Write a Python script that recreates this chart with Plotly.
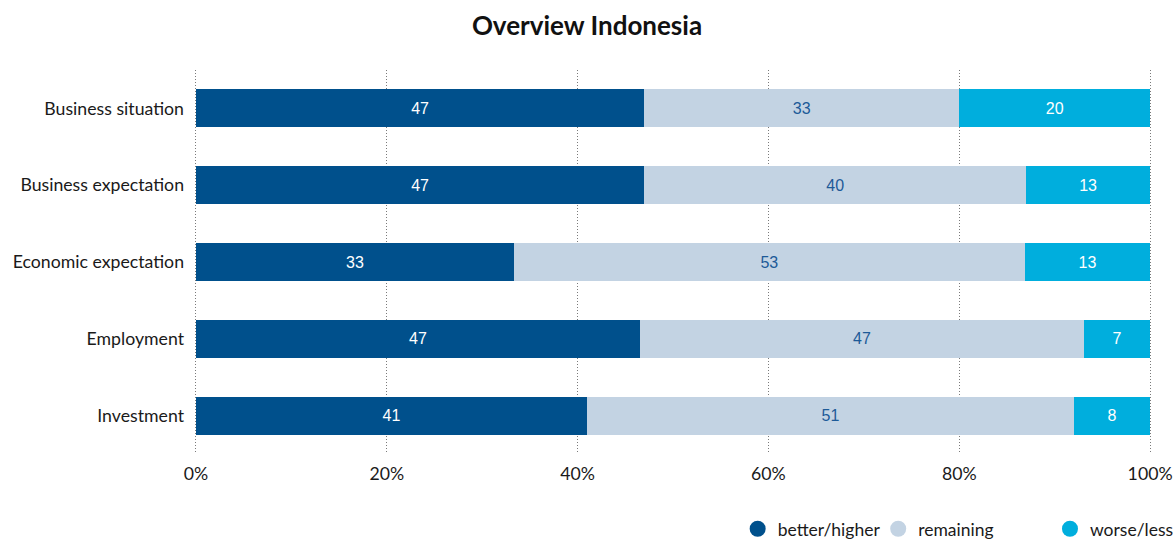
import plotly.graph_objects as go

categories = ["Business situation", "Business expectation", "Economic expectation",
              "Employment", "Investment"]
better = [47, 47, 33, 47, 41]
remaining = [33, 40, 53, 47, 51]
worse = [20, 13, 13, 7, 8]

series = [
    ("better/higher", better, "#00508c", "#ffffff", "legend", 0.5675),
    ("remaining", remaining, "#c3d3e3", "#1d5a98", "legend2", 0.7142),
    ("worse/less", worse, "#00aedd", "#ffffff", "legend3", 0.8935),
]

FONT = "Lato"
TXT = "#1a1a1a"

fig = go.Figure()
for name, vals, color, txtcolor, _, _ in series:
    fig.add_trace(go.Bar(
        y=categories, x=vals, name=name, orientation="h",
        marker=dict(color=color, line=dict(width=0)),
        text=[str(v) for v in vals], textposition="inside",
        insidetextanchor="middle", textangle=0,
        textfont=dict(family="Liberation Sans", size=16, color=txtcolor),
        showlegend=False, hoverinfo="x+y",
    ))

# circular legend swatches, one legend box per entry
legend_boxes = {}
for name, vals, color, _, leg, lx in series:
    fig.add_trace(go.Scatter(
        x=[None], y=[None], mode="markers", name=name, legend=leg,
        marker=dict(symbol="circle", size=18, color=color),
    ))
    legend_boxes[leg] = dict(
        orientation="h", x=lx, xanchor="left", y=-0.195, yanchor="middle",
        bgcolor="rgba(0,0,0,0)",
        font=dict(family=FONT, size=17.5, color=TXT), itemwidth=30,
    )

fig.update_layout(
    barmode="stack", barnorm="percent", bargap=0.505,
    width=1174, height=541,
    margin=dict(l=194, r=22, t=70, b=87, autoexpand=False),
    paper_bgcolor="white", plot_bgcolor="white",
    font=dict(family=FONT, size=17.7, color=TXT),
    title=dict(text="<b>Overview Indonesia</b>", x=0.5, xanchor="center",
               y=0.953, yanchor="middle", font=dict(family=FONT, size=26, color="#111111")),
    xaxis=dict(range=[-0.2, 100.2], tickvals=[0, 20, 40, 60, 80, 100],
               ticktext=["0%", "20%", "40%", "60%", "80%", "100%"],
               showgrid=True, gridcolor="#7a7a7a", griddash="1px,2px", gridwidth=1,
               zeroline=False, showline=False, ticks="", ticklabelstandoff=7,
               tickfont=dict(family=FONT, size=17.7, color=TXT)),
    yaxis=dict(autorange="reversed", showgrid=False, zeroline=False,
               ticks="", ticklabelstandoff=9,
               tickfont=dict(family=FONT, size=17.7, color=TXT)),
    **legend_boxes,
)

fig.write_html("out.html")
